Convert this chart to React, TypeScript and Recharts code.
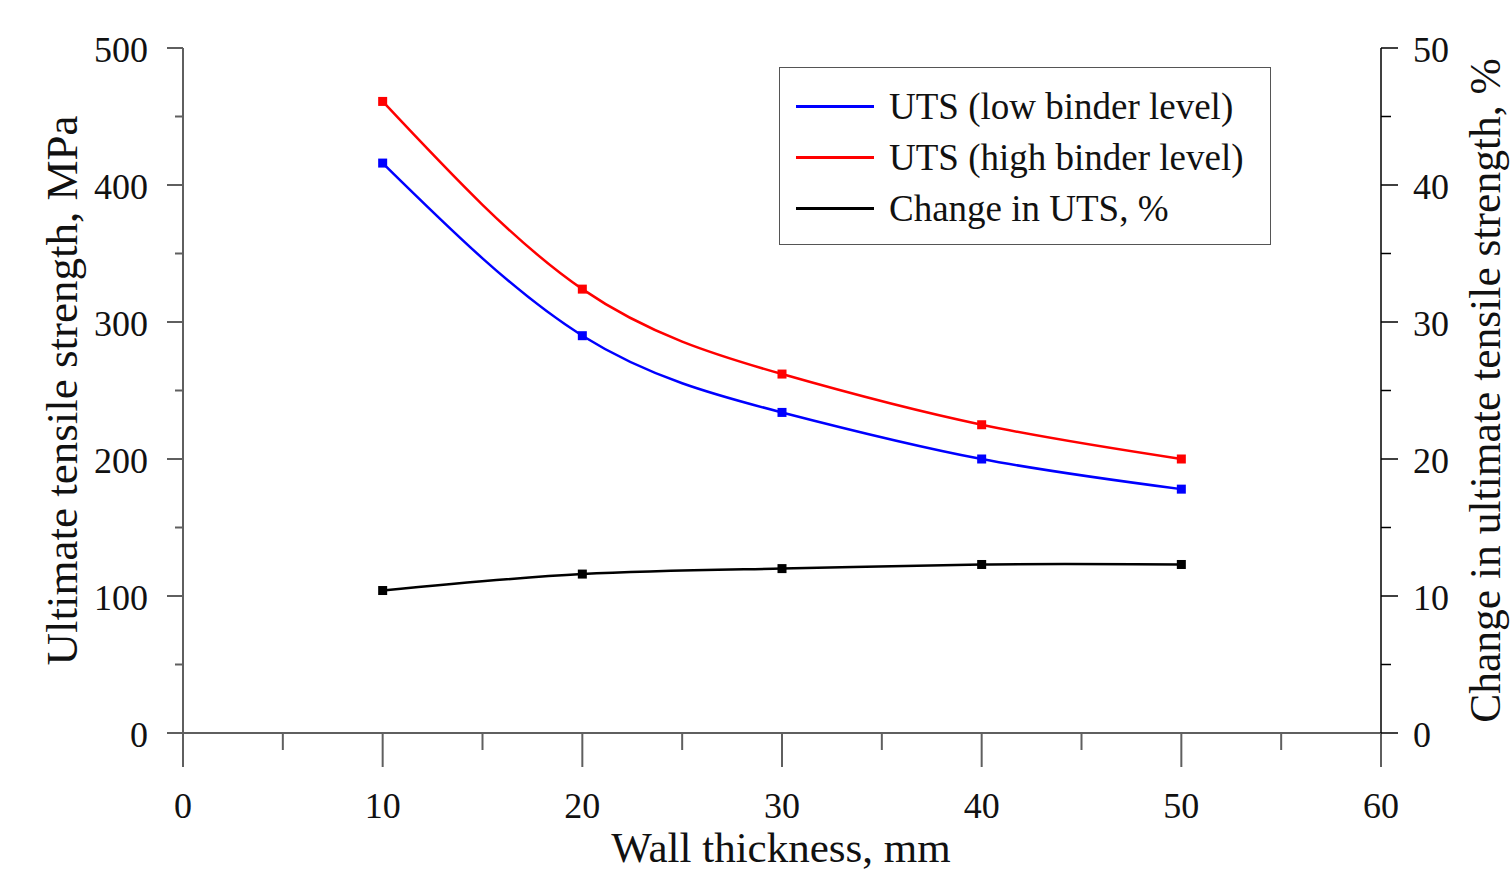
import { LineChart, Line, XAxis, YAxis } from "recharts";

// Values
const thickness = [10, 20, 30, 40, 50];
const utsLow = [416, 290, 234, 200, 178];
const utsHigh = [461, 324, 262, 225, 200];
const changePct = [10.4, 11.6, 12.0, 12.3, 12.3];

const xTicks = [0, 5, 10, 15, 20, 25, 30, 35, 40, 45, 50, 55, 60];
const leftTicks = [0, 50, 100, 150, 200, 250, 300, 350, 400, 450, 500];
const rightTicks = [0, 5, 10, 15, 20, 25, 30, 35, 40, 45, 50];

const data = thickness.map((x, i) => ({
  x,
  low: utsLow[i],
  high: utsHigh[i],
  change: changePct[i],
}));

const FONT = "'Liberation Serif', 'Times New Roman', serif";
const TICK_FS = 36;
const TITLE_FS = 44;
const AXIS_GRAY = "#5f5f5f";

const LEFT_T = 16;
const RIGHT_T = 17;
const X_T = 34;

const LeftTick = (props: any) => {
  const { x, y, payload } = props;
  const ax = x + LEFT_T;
  const major = payload.value % 100 === 0;
  return (
    <g>
      <line x1={ax} x2={ax - (major ? LEFT_T : 8)} y1={y} y2={y} stroke={AXIS_GRAY} strokeWidth={2} />
      {major && (
        <text x={ax - 35} y={y + 14} textAnchor="end" fontFamily={FONT} fontSize={TICK_FS} fill="#111">
          {payload.value}
        </text>
      )}
    </g>
  );
};

const RightTick = (props: any) => {
  const { x, y, payload } = props;
  const ax = x - RIGHT_T;
  const major = payload.value % 10 === 0;
  return (
    <g>
      <line x1={ax} x2={ax + (major ? RIGHT_T : 10)} y1={y} y2={y} stroke="#000" strokeWidth={1.5} />
      {major && (
        <text x={ax + 32} y={y + 14} textAnchor="start" fontFamily={FONT} fontSize={TICK_FS} fill="#111">
          {payload.value}
        </text>
      )}
    </g>
  );
};

const BottomTick = (props: any) => {
  const { x, y, payload } = props;
  const ay = y - X_T;
  const major = payload.value % 10 === 0;
  return (
    <g>
      <line x1={x} x2={x} y1={ay} y2={ay + (major ? X_T : 17)} stroke={AXIS_GRAY} strokeWidth={2} />
      {major && (
        <text x={x} y={ay + 85} textAnchor="middle" fontFamily={FONT} fontSize={TICK_FS} fill="#111">
          {payload.value}
        </text>
      )}
    </g>
  );
};

const Square = (color: string) => (props: any) => {
  const { cx, cy, index } = props;
  if (cx == null || cy == null) return <g key={index} />;
  return <rect key={index} x={cx - 4.5} y={cy - 4.5} width={9} height={9} fill={color} />;
};

const legendItems = [
  { label: "UTS (low binder level)", color: "#0000ff" },
  { label: "UTS (high binder level)", color: "#ff0000" },
  { label: "Change in UTS, %", color: "#000000" },
];

export default function App() {
  return (
    <div style={{ position: "relative", width: 1510, height: 870, background: "#fff" }}>
      <style>{`body{margin:0;}`}</style>
      <LineChart width={1510} height={870} data={data} margin={{ top: 48, right: 20, bottom: 0, left: 0 }}>
        <XAxis
          dataKey="x"
          type="number"
          domain={[0, 60]}
          ticks={xTicks}
          interval={0}
          height={137}
          tickSize={X_T}
          tickMargin={0}
          tickLine={false}
          tick={<BottomTick />}
          axisLine={{ stroke: AXIS_GRAY, strokeWidth: 2 }}
          label={{
            content: (p: any) => {
              const vb = p.viewBox;
              return (
                <text x={vb.x + vb.width / 2 - 1} y={vb.y + 129} textAnchor="middle" fontFamily={FONT} fontSize={43} fill="#111">
                  Wall thickness, mm
                </text>
              );
            },
          }}
        />
        <YAxis
          yAxisId="left"
          orientation="left"
          type="number"
          domain={[0, 500]}
          ticks={leftTicks}
          interval={0}
          width={183}
          tickSize={LEFT_T}
          tickMargin={0}
          tickLine={false}
          tick={<LeftTick />}
          axisLine={{ stroke: AXIS_GRAY, strokeWidth: 2 }}
          label={{
            content: (p: any) => {
              const vb = p.viewBox;
              const cy = vb.y + vb.height / 2;
              return (
                <text
                  x={62}
                  y={cy}
                  transform={`rotate(-90 62 ${cy})`}
                  textAnchor="middle"
                  dominantBaseline="central"
                  fontFamily={FONT}
                  fontSize={TITLE_FS + 1}
                  fill="#111"
                >
                  Ultimate tensile strength, MPa
                </text>
              );
            },
          }}
        />
        <YAxis
          yAxisId="right"
          orientation="right"
          type="number"
          domain={[0, 50]}
          ticks={rightTicks}
          interval={0}
          width={109}
          tickSize={RIGHT_T}
          tickMargin={0}
          tickLine={false}
          tick={<RightTick />}
          axisLine={{ stroke: "#000", strokeWidth: 1.5 }}
          label={{
            content: (p: any) => {
              const vb = p.viewBox;
              const cy = vb.y + vb.height / 2;
              const cx = vb.x + 104;
              return (
                <text
                  x={cx}
                  y={cy}
                  transform={`rotate(-90 ${cx} ${cy})`}
                  textAnchor="middle"
                  dominantBaseline="central"
                  fontFamily={FONT}
                  fontSize={TITLE_FS - 0.5}
                  fill="#111"
                >
                  Change in ultimate tensile strength, %
                </text>
              );
            },
          }}
        />
        <Line
          yAxisId="left"
          type="natural"
          dataKey="low"
          stroke="#0000ff"
          strokeWidth={2.5}
          dot={Square("#0000ff")}
          activeDot={false}
          isAnimationActive={false}
        />
        <Line
          yAxisId="left"
          type="natural"
          dataKey="high"
          stroke="#ff0000"
          strokeWidth={2.5}
          dot={Square("#ff0000")}
          activeDot={false}
          isAnimationActive={false}
        />
        <Line
          yAxisId="right"
          type="natural"
          dataKey="change"
          stroke="#000000"
          strokeWidth={2.5}
          dot={Square("#000000")}
          activeDot={false}
          isAnimationActive={false}
        />
      </LineChart>
      <div
        style={{
          position: "absolute",
          left: 779,
          top: 67,
          width: 492,
          height: 178,
          border: "1.5px solid #555",
          background: "#fff",
          fontFamily: FONT,
          fontSize: 37,
          color: "#111",
          boxSizing: "border-box",
          paddingTop: 13,
        }}
      >
        {legendItems.map((it) => (
          <div key={it.label} style={{ display: "flex", alignItems: "center", height: 51, whiteSpace: "nowrap" }}>
            <span style={{ display: "inline-block", width: 78, height: 3, background: it.color, marginLeft: 16, marginRight: 15 }} />
            <span>{it.label}</span>
          </div>
        ))}
      </div>
    </div>
  );
}
